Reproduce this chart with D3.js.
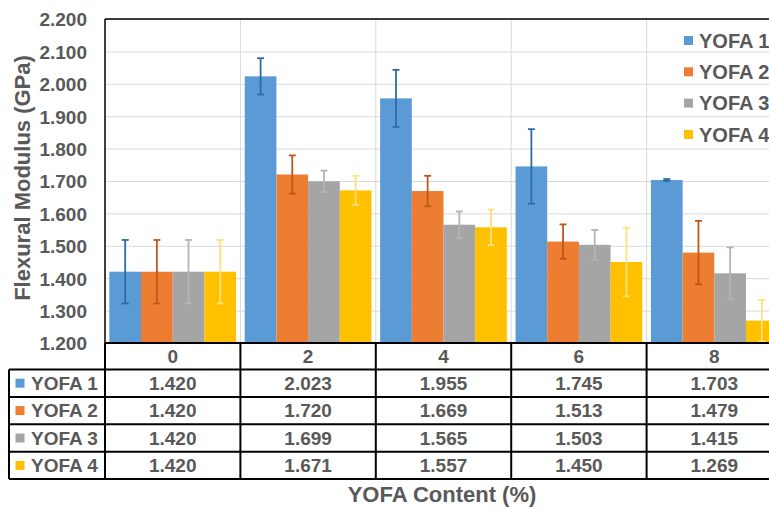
<!DOCTYPE html>
<html><head><meta charset="utf-8">
<script src="https://cdn.jsdelivr.net/npm/d3@7"></script>
<style>body{margin:0;background:#fff;overflow:hidden}text{font-family:"Liberation Sans",Arial,sans-serif;font-weight:bold;fill:#595959}</style>
</head><body><svg id="c" width="769" height="508"></svg>
<script>
const categories = ["0","2","4","6","8"];
const seriesNames = ["YOFA 1","YOFA 2","YOFA 3","YOFA 4"];
const yofa1 = [1.420, 2.023, 1.955, 1.745, 1.703];
const yofa2 = [1.420, 1.720, 1.669, 1.513, 1.479];
const yofa3 = [1.420, 1.699, 1.565, 1.503, 1.415];
const yofa4 = [1.420, 1.671, 1.557, 1.450, 1.269];
const err1 = [0.098, 0.056, 0.088, 0.115, 0.003];
const err2 = [0.098, 0.059, 0.047, 0.053, 0.098];
const err3 = [0.098, 0.033, 0.041, 0.046, 0.080];
const err4 = [0.098, 0.045, 0.055, 0.106, 0.064];
const yTicks = [1.2,1.3,1.4,1.5,1.6,1.7,1.8,1.9,2.0,2.1,2.2];
const colors = ["#5b9bd5","#ed7d31","#a5a5a5","#ffc000"];
const errColors = ["#2e6aa6","#c0561a","#b4b4b4","#ffe07a"];

const values = [yofa1,yofa2,yofa3,yofa4];
const errs = [err1,err2,err3,err4];

const svg = d3.select("#c");
const L = 105, T = 19, B = 343, R = 782;
const x = d3.scaleBand().domain(categories).range([L,R]).paddingInner(0).paddingOuter(0);
const inner = d3.scaleBand().domain(seriesNames).range([0, x.bandwidth()]).paddingInner(0).paddingOuter(0.137);
const y = d3.scaleLinear().domain([1.2,2.2]).range([B,T]);

// gridlines
svg.append("g").selectAll("line").data(yTicks.slice(1)).join("line")
  .attr("x1",L).attr("x2",R).attr("y1",d=>y(d)+0.5).attr("y2",d=>y(d)+0.5)
  .attr("stroke","#d9d9d9").attr("stroke-width",1);
svg.append("g").selectAll("line").data(categories.slice(1)).join("line")
  .attr("x1",d=>x(d)).attr("x2",d=>x(d)).attr("y1",T).attr("y2",B)
  .attr("stroke","#d9d9d9").attr("stroke-width",1);

// bars
seriesNames.forEach((s,si)=>{
  const g = svg.append("g");
  g.selectAll("rect").data(categories).join("rect")
    .attr("x",c=>x(c)+inner(s)).attr("width",inner.bandwidth())
    .attr("y",(c,i)=>y(values[si][i])).attr("height",(c,i)=>B-y(values[si][i]))
    .attr("fill",colors[si]);
});
// error bars
seriesNames.forEach((s,si)=>{
  const g = svg.append("g").attr("stroke",errColors[si]).attr("stroke-width",1.8);
  categories.forEach((c,i)=>{
    const cx = x(c)+inner(s)+inner.bandwidth()/2;
    const v = values[si][i], e = errs[si][i];
    const top = y(v+e), bot = Math.min(B, y(v-e));
    g.append("line").attr("x1",cx).attr("x2",cx).attr("y1",top).attr("y2",bot);
    g.append("line").attr("x1",cx-3.5).attr("x2",cx+3.5).attr("y1",top).attr("y2",top);
    if (y(v-e) < B) g.append("line").attr("x1",cx-3.5).attr("x2",cx+3.5).attr("y1",bot).attr("y2",bot);
  });
});

// plot border (top & left)
svg.append("line").attr("x1",L).attr("x2",R).attr("y1",T).attr("y2",T).attr("stroke","#000").attr("stroke-width",1.5);
svg.append("line").attr("x1",L).attr("x2",L).attr("y1",T).attr("y2",B).attr("stroke","#000").attr("stroke-width",1.5);

// y axis ticks
const yAxis = svg.append("g").attr("transform",`translate(${L},0)`)
  .call(d3.axisLeft(y).tickValues(yTicks).tickFormat(d3.format(".3f")).tickSize(0).tickPadding(18));
yAxis.select(".domain").remove();
yAxis.selectAll("text").style("font-size","19px").attr("fill","#595959").attr("dy","0.36em");

// y label
svg.append("text").attr("transform",`translate(30,${178}) rotate(-90)`)
  .attr("text-anchor","middle").style("font-size","22px").text("Flexural Modulus (GPa)");

// legend
const leg = svg.append("g");
seriesNames.forEach((s,si)=>{
  const ly = 40.5 + si*31.3;
  leg.append("rect").attr("x",684).attr("y",ly-4.5).attr("width",9).attr("height",9).attr("fill",colors[si]);
  leg.append("text").attr("x",699).attr("y",ly).attr("dy","0.36em").style("font-size","20px").text(s);
});

// data table
const rowH = 27.4;
const hdrTop = B, hdrBot = 369.5;
const rows = seriesNames.map((s,i)=>hdrBot + i*rowH);
const tableBot = hdrBot + 4*rowH;
const tb = svg.append("g").attr("stroke","#000").attr("stroke-width",2);
tb.append("line").attr("x1",L).attr("x2",R).attr("y1",hdrTop).attr("y2",hdrTop);
[hdrBot, ...rows.slice(1), tableBot].forEach(yy=>{
  tb.append("line").attr("x1",9).attr("x2",R).attr("y1",yy).attr("y2",yy);
});
tb.append("line").attr("x1",9).attr("x2",9).attr("y1",hdrBot).attr("y2",tableBot);
categories.forEach(c=>{
  tb.append("line").attr("x1",x(c)).attr("x2",x(c)).attr("y1",hdrTop).attr("y2",tableBot);
});
// header text
svg.append("g").selectAll("text").data(categories).join("text")
  .attr("x",c=>x(c)+x.bandwidth()/2).attr("y",(hdrTop+hdrBot)/2).attr("dy","0.36em")
  .attr("text-anchor","middle").style("font-size","19px").text(c=>c);
// rows
seriesNames.forEach((s,si)=>{
  const cy = rows[si] + rowH/2;
  svg.append("rect").attr("x",15.5).attr("y",cy-4.5).attr("width",9).attr("height",9).attr("fill",colors[si]);
  svg.append("text").attr("x",31).attr("y",cy).attr("dy","0.36em").style("font-size","19px").text(s);
  svg.append("g").selectAll("text").data(categories).join("text")
    .attr("x",c=>x(c)+x.bandwidth()/2).attr("y",cy).attr("dy","0.36em")
    .attr("text-anchor","middle").style("font-size","19px")
    .text((c,i)=>d3.format(".3f")(values[si][i]));
});

// x title
svg.append("text").attr("x",442).attr("y",494).attr("dy","0.36em").attr("text-anchor","middle")
  .style("font-size","22px").text("YOFA Content (%)");
</script></body></html>
